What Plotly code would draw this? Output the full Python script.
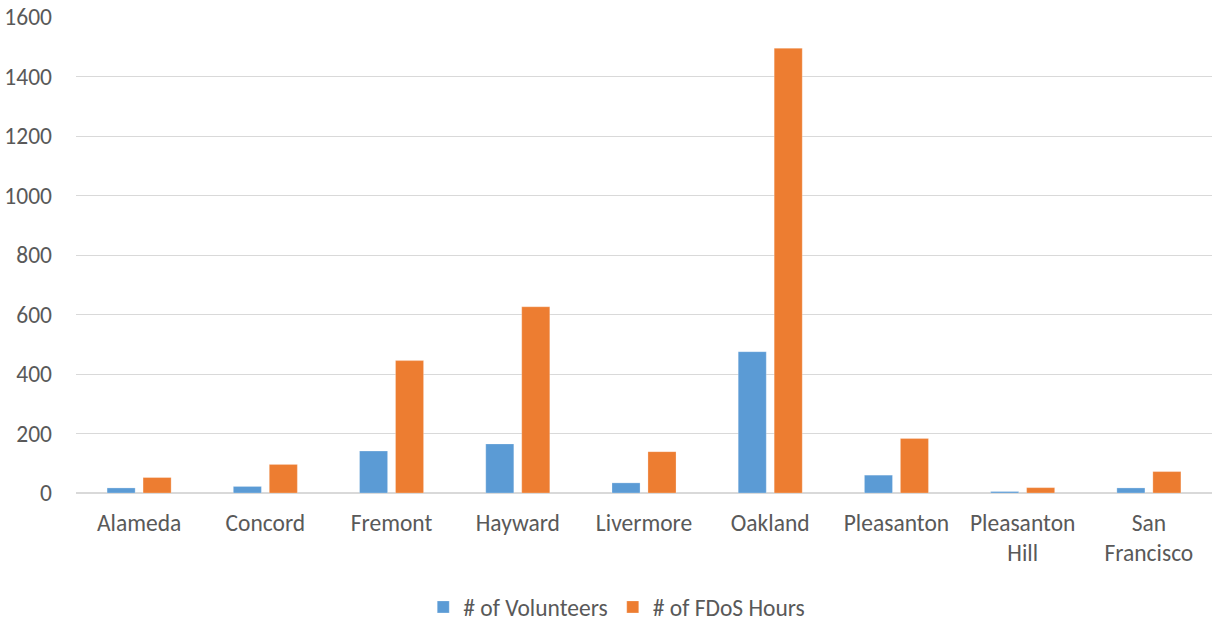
import plotly.graph_objects as go

categories = ["Alameda", "Concord", "Fremont", "Hayward", "Livermore", "Oakland",
              "Pleasanton", "Pleasanton<br>Hill", "San<br>Francisco"]
volunteers = [17, 22, 141, 165, 34, 475, 60, 5, 17]
fdos_hours = [52, 96, 445, 626, 139, 1495, 183, 18, 72]
y_ticks = [0, 200, 400, 600, 800, 1000, 1200, 1400, 1600]

font_family = "Carlito, Liberation Sans, Arial, sans-serif"
text_color = "#595959"
fs = 23.5

fig = go.Figure()
fig.add_trace(go.Bar(name="# of Volunteers", x=categories, y=volunteers,
                     marker=dict(color="#5B9BD5", line=dict(color="rgba(255,255,255,0.5)", width=0.5))))
fig.add_trace(go.Bar(name="# of FDoS Hours", x=categories, y=fdos_hours,
                     marker=dict(color="#ED7D31", line=dict(color="rgba(255,255,255,0.5)", width=0.5))))

fig.update_layout(
    width=1215, height=624,
    margin=dict(l=76, r=3, t=17, b=130.5),
    paper_bgcolor="white", plot_bgcolor="white",
    barmode="group", bargap=0.43, bargroupgap=0.22,
    font=dict(family=font_family, size=fs, color=text_color),
    showlegend=True,
    legend=dict(orientation="h", x=0.476, xanchor="center",
                yref="container", y=0.027, yanchor="middle",
                font=dict(size=fs, color=text_color), itemwidth=30, traceorder="normal"),
    xaxis=dict(showgrid=False, showline=False, ticks="", ticklabelstandoff=13,
               automargin=False, tickfont=dict(size=fs, color=text_color)),
    yaxis=dict(range=[0, 1600], tickvals=y_ticks, showgrid=True, gridcolor="#d9d9d9",
               gridwidth=1.3, zeroline=True, zerolinecolor="#d9d9d9", zerolinewidth=2,
               showline=False, ticks="", ticklabelstandoff=23, automargin=False,
               tickfont=dict(size=fs, color=text_color)),
)

# remove the browser's default 8px body margin so the figure fills the window
fig.write_html("out.html",
               config={"displayModeBar": False},
               post_script="document.body.style.margin='0';document.body.style.overflow='hidden';")
